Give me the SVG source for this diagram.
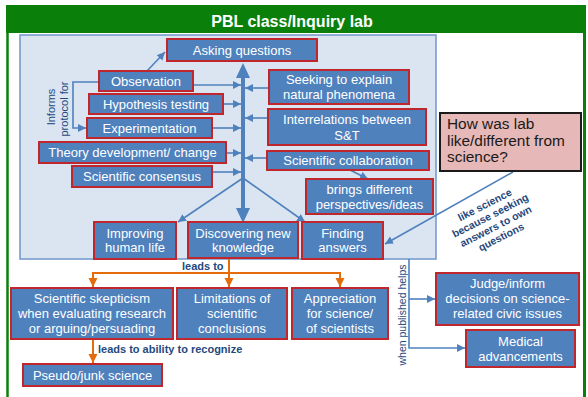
<svg xmlns="http://www.w3.org/2000/svg" width="588" height="397" viewBox="0 0 588 397">
<defs>
<style>
.box{fill:#4f81bd;stroke:#c0272d;stroke-width:2}
.bt{font-family:"Liberation Sans",Arial,sans-serif;font-size:13px;fill:#ffffff;text-anchor:middle}
.c{fill:none;stroke:#4f81bd;stroke-width:1.6}
.o{fill:none;stroke:#e46c0a;stroke-width:2}
.lab{font-family:"Liberation Sans",Arial,sans-serif;fill:#1f497d}
</style>
<marker id="ab" markerUnits="userSpaceOnUse" markerWidth="9" markerHeight="9" refX="8" refY="4" orient="auto"><path d="M0,0 L8,4 L0,8 z" fill="#4f81bd"/></marker>
<marker id="ao" markerUnits="userSpaceOnUse" markerWidth="10" markerHeight="10" refX="9" refY="4.5" orient="auto"><path d="M0,0 L9,4.5 L0,9 z" fill="#e46c0a"/></marker>
</defs>
<rect x="0" y="0" width="588" height="397" fill="#ffffff"/>
<!-- green frame -->
<rect x="6" y="5" width="580" height="28" fill="#0a800a"/>
<line x1="7.5" y1="33" x2="7.5" y2="397" stroke="#0a800a" stroke-width="2.5"/>
<line x1="584.5" y1="33" x2="584.5" y2="397" stroke="#0a800a" stroke-width="3"/>
<text x="292" y="27" font-family="'Liberation Sans',Arial,sans-serif" font-size="16" font-weight="bold" fill="#ffffff" text-anchor="middle">PBL class/Inquiry lab</text>
<!-- panel -->
<rect x="20" y="35" width="416" height="224" fill="#dbe5f1" stroke="#6f97c8" stroke-width="1.5"/>
<!-- connectors -->
<g id="connectors">
<line x1="243" y1="210" x2="243" y2="76" stroke="#4f81bd" stroke-width="4"/>
<path d="M236,78 L243,63 L250,78 z" fill="#4f81bd"/>
<path d="M236,208 L243,223 L250,208 z" fill="#4f81bd"/>
<line class="c" x1="147" y1="71" x2="165" y2="52" marker-end="url(#ab)"/>
<line class="c" x1="193" y1="85" x2="241" y2="85" marker-end="url(#ab)"/>
<line class="c" x1="223" y1="104" x2="241" y2="104" marker-end="url(#ab)"/>
<line class="c" x1="212" y1="128" x2="241" y2="128" marker-end="url(#ab)"/>
<line class="c" x1="226" y1="153" x2="241" y2="153" marker-end="url(#ab)"/>
<line class="c" x1="212" y1="172" x2="241" y2="172" marker-end="url(#ab)"/>
<line class="c" x1="269" y1="88" x2="245" y2="88" marker-end="url(#ab)"/>
<line class="c" x1="268" y1="118" x2="245" y2="118" marker-end="url(#ab)"/>
<line class="c" x1="267" y1="158" x2="245" y2="158" marker-end="url(#ab)"/>
<line class="c" x1="350" y1="170" x2="368" y2="179" marker-end="url(#ab)"/>
<line class="c" x1="243" y1="178" x2="178" y2="222" marker-end="url(#ab)"/>
<line class="c" x1="243" y1="178" x2="305" y2="222" marker-end="url(#ab)"/>
<path class="c" d="M99,82 H73 V128 H86" marker-end="url(#ab)"/>
<line class="c" x1="513" y1="172" x2="385" y2="244" marker-end="url(#ab)"/>
<path class="c" d="M409,259 V348 H465" marker-end="url(#ab)"/>
<line class="c" x1="409" y1="299" x2="435" y2="299" marker-end="url(#ab)"/>
<line class="o" x1="229" y1="258" x2="229" y2="287" marker-end="url(#ao)"/>
<path class="o" d="M93,287 V273 H340 V287" marker-end="url(#ao)"/>
<line class="o" x1="93" y1="274" x2="93" y2="287" marker-end="url(#ao)"/>
<line class="o" x1="93" y1="339" x2="93" y2="363" marker-end="url(#ao)"/>
</g>
<!-- connector labels -->
<text class="lab" font-size="11" transform="translate(55,107) rotate(-90)" text-anchor="middle">Informs</text>
<text class="lab" font-size="11" transform="translate(68,109) rotate(-90)" text-anchor="middle">protocol for</text>
<text class="lab" font-size="10.5" transform="translate(406,315) rotate(-90)" text-anchor="middle">when published  helps</text>
<text class="lab" font-size="11" font-weight="bold" x="182" y="270">leads to</text>
<text class="lab" font-size="11" font-weight="bold" x="98" y="353">leads to ability to recognize</text>
<text class="lab" font-size="10.5" font-weight="bold" text-anchor="middle" transform="translate(493,221) rotate(-27)"><tspan x="0" y="-14.5">like science</tspan><tspan x="0" y="-2.5">because seeking</tspan><tspan x="0" y="9.5">answers to own</tspan><tspan x="0" y="21.5">questions</tspan></text>
<!-- nodes -->
<g id="asking"><rect class="box" x="167" y="39" width="150" height="22"/><text class="bt" x="242" y="55" font-size="14">Asking questions</text></g>
<g id="observation"><rect class="box" x="99" y="71" width="94" height="20"/><text class="bt" x="146" y="86">Observation</text></g>
<g id="hypothesis"><rect class="box" x="89" y="94" width="134" height="20"/><text class="bt" x="156" y="109">Hypothesis testing</text></g>
<g id="experimentation"><rect class="box" x="87" y="118" width="125" height="20"/><text class="bt" x="149.5" y="133">Experimentation</text></g>
<g id="theory"><rect class="box" x="39" y="142" width="187" height="21"/><text class="bt" x="132.5" y="157">Theory development/ change</text></g>
<g id="consensus"><rect class="box" x="72" y="166" width="140" height="21"/><text class="bt" x="142" y="181">Scientific consensus</text></g>
<g id="seeking"><rect class="box" x="269" y="70" width="140" height="34"/><text class="bt" x="339" y="83.5">Seeking to explain</text><text class="bt" x="339" y="98.5">natural phenomena</text></g>
<g id="interrelations"><rect class="box" x="268" y="109" width="158" height="36"/><text class="bt" x="347" y="123.5">Interrelations between</text><text class="bt" x="347" y="139.5">S&amp;T</text></g>
<g id="collaboration"><rect class="box" x="267" y="151" width="162" height="19"/><text class="bt" x="348" y="165">Scientific collaboration</text></g>
<g id="brings"><rect class="box" x="306" y="179" width="127" height="35"/><text class="bt" x="369.5" y="193.5">brings different</text><text class="bt" x="369.5" y="208.5">perspectives/ideas</text></g>
<g id="improving"><rect class="box" x="94" y="222" width="82" height="37"/><text class="bt" x="135" y="237.5">Improving</text><text class="bt" x="135" y="251.5">human life</text></g>
<g id="discovering"><rect class="box" x="188" y="222" width="110" height="36"/><text class="bt" x="243" y="237.5">Discovering new</text><text class="bt" x="243" y="251.5">knowledge</text></g>
<g id="finding"><rect class="box" x="302" y="222" width="81" height="37"/><text class="bt" x="342.5" y="237.5">Finding</text><text class="bt" x="342.5" y="251.5">answers</text></g>
<g id="question"><rect x="440" y="113" width="141" height="58" fill="#e6b8b7" stroke="#1a1a1a" stroke-width="2"/><text font-family="'Liberation Sans',Arial,sans-serif" font-size="15.4" fill="#1a1a1a"><tspan x="447" y="129">How was lab</tspan><tspan x="447" y="145.5">like/different from</tspan><tspan x="447" y="162">science?</tspan></text></g>
<g id="skepticism"><rect class="box" x="11" y="288" width="162" height="51"/><text class="bt" x="92" y="303">Scientific skepticism</text><text class="bt" x="92" y="318">when evaluating research</text><text class="bt" x="92" y="333">or arguing/persuading</text></g>
<g id="limitations"><rect class="box" x="177" y="288" width="110" height="51"/><text class="bt" x="232" y="303">Limitations of</text><text class="bt" x="232" y="318">scientific</text><text class="bt" x="232" y="333">conclusions</text></g>
<g id="appreciation"><rect class="box" x="292" y="288" width="96" height="51"/><text class="bt" x="340" y="303">Appreciation</text><text class="bt" x="340" y="318">for science/</text><text class="bt" x="340" y="333">of scientists</text></g>
<g id="pseudo"><rect class="box" x="23" y="364" width="139" height="22"/><text class="bt" x="92.5" y="379.5">Pseudo/junk science</text></g>
<g id="judge"><rect class="box" x="436" y="273" width="143" height="52"/><text class="bt" x="507.5" y="288">Judge/inform</text><text class="bt" x="507.5" y="303">decisions on science-</text><text class="bt" x="507.5" y="318">related civic issues</text></g>
<g id="medical"><rect class="box" x="466" y="330" width="109" height="37"/><text class="bt" x="520.5" y="346">Medical</text><text class="bt" x="520.5" y="360.5">advancements</text></g>
</svg>
